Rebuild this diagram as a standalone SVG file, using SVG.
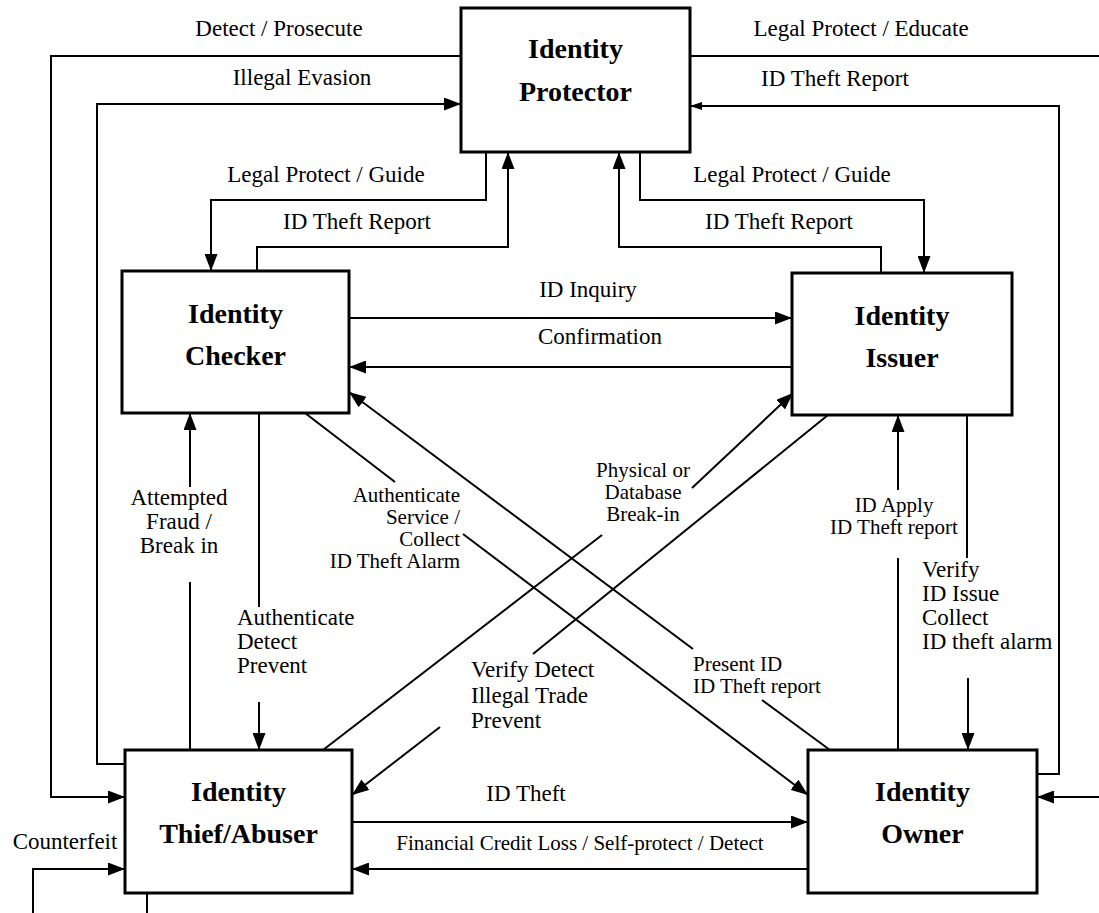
<svg xmlns="http://www.w3.org/2000/svg" width="1099" height="913" viewBox="0 0 1099 913">
  <style>
    .box { fill: #ffffff; stroke: #000000; stroke-width: 3; }
    .title { font-family: "Liberation Serif", "Times New Roman", serif; font-weight: bold; font-size: 28px; fill: #000000; text-anchor: middle; }
    .lbl { font-family: "Liberation Serif", "Times New Roman", serif; font-size: 23px; fill: #000000; }
    .mid { text-anchor: middle; }
    .end { text-anchor: end; }
    .small { font-size: 21px; }
    .wire { fill: none; stroke: #000000; stroke-width: 2; }
    .arrow { marker-end: url(#head); }
    .arrow-sm { marker-end: url(#headSmall); }
  </style>
  <defs>
    <marker id="head" markerUnits="userSpaceOnUse" markerWidth="17" markerHeight="13" refX="17" refY="6.5" orient="auto">
      <path d="M0,0 L17,6.5 L0,13 Z" fill="#000000"/>
    </marker>
    <marker id="headSmall" markerUnits="userSpaceOnUse" markerWidth="12" markerHeight="8" refX="12" refY="4" orient="auto">
      <path d="M0,0 L12,4 L0,8 Z" fill="#000000"/>
    </marker>
  </defs>

  <rect width="1099" height="913" fill="#ffffff"/>

  <!-- connectors -->
  <g id="connectors">
    <!-- protector <-> thief -->
    <path class="wire arrow" d="M461,56 H51 V797 H125"/>
    <path class="wire arrow" d="M125,764 H97 V104 H461"/>
    <!-- protector <-> owner (loops run past the page edge) -->
    <path class="wire arrow" d="M690,56 H1115 V797 H1037"/>
    <path class="wire arrow-sm" d="M1037,774 H1059 V106 H690"/>
    <!-- protector <-> checker -->
    <path class="wire arrow" d="M486,152 V200 H211 V271"/>
    <path class="wire arrow" d="M257,271 V247 H508 V152"/>
    <!-- protector <-> issuer -->
    <path class="wire arrow" d="M640,152 V200 H924 V273"/>
    <path class="wire arrow" d="M881,273 V247 H619 V152"/>
    <!-- checker <-> issuer -->
    <path class="wire arrow" d="M349,318 H792"/>
    <path class="wire arrow" d="M792,367 H349"/>
    <!-- thief <-> checker -->
    <path class="wire" d="M190,750 V582"/>
    <path class="wire arrow" d="M190,487 V413"/>
    <path class="wire" d="M259,413 V607"/>
    <path class="wire arrow" d="M259,702 V750"/>
    <!-- checker <-> owner -->
    <path class="wire" d="M305,413 L395,482"/>
    <path class="wire arrow" d="M463,534 L808,795"/>
    <path class="wire" d="M830,750 L762,700"/>
    <path class="wire arrow" d="M693,649 L349,392"/>
    <!-- thief <-> issuer -->
    <path class="wire" d="M323,750 L602,535"/>
    <path class="wire arrow" d="M692,488 L793,393"/>
    <path class="wire" d="M828,415 L533,654"/>
    <path class="wire arrow" d="M440,727 L352,795"/>
    <!-- owner <-> issuer -->
    <path class="wire" d="M898,750 V558"/>
    <path class="wire arrow" d="M898,490 V415"/>
    <path class="wire" d="M967,415 V558"/>
    <path class="wire arrow" d="M968,678 V750"/>
    <!-- thief <-> owner -->
    <path class="wire arrow" d="M352,822 H808"/>
    <path class="wire arrow" d="M808,869 H352"/>
    <!-- thief self loop -->
    <path class="wire arrow" d="M147,893 V930 H33 V869 H125"/>
  </g>

  <!-- connector labels -->
  <g id="labels">
    <text class="lbl mid" x="279" y="36">Detect / Prosecute</text>
    <text class="lbl mid" x="302" y="85">Illegal Evasion</text>
    <text class="lbl mid" x="861" y="36">Legal Protect / Educate</text>
    <text class="lbl mid" x="835" y="86">ID Theft Report</text>
    <text class="lbl mid" x="326" y="182">Legal Protect / Guide</text>
    <text class="lbl mid" x="357" y="229">ID Theft Report</text>
    <text class="lbl mid" x="792" y="182">Legal Protect / Guide</text>
    <text class="lbl mid" x="779" y="229">ID Theft Report</text>
    <text class="lbl mid" x="588" y="297">ID Inquiry</text>
    <text class="lbl mid" x="600" y="344">Confirmation</text>
    <text class="lbl mid" x="179" y="505">Attempted</text>
    <text class="lbl mid" x="179" y="529">Fraud /</text>
    <text class="lbl mid" x="179" y="553">Break in</text>
    <text class="lbl" x="237" y="625">Authenticate</text>
    <text class="lbl" x="237" y="649">Detect</text>
    <text class="lbl" x="237" y="673">Prevent</text>
    <text class="lbl end small" x="460" y="502">Authenticate</text>
    <text class="lbl end small" x="460" y="524">Service /</text>
    <text class="lbl end small" x="460" y="546">Collect</text>
    <text class="lbl end small" x="460" y="568">ID Theft Alarm</text>
    <text class="lbl mid small" x="643" y="477">Physical or</text>
    <text class="lbl mid small" x="643" y="499">Database</text>
    <text class="lbl mid small" x="643" y="521">Break-in</text>
    <text class="lbl" x="471" y="677">Verify Detect</text>
    <text class="lbl" x="471" y="703">Illegal Trade</text>
    <text class="lbl" x="471" y="728">Prevent</text>
    <text class="lbl small" x="693" y="671">Present ID</text>
    <text class="lbl small" x="693" y="693">ID Theft report</text>
    <text class="lbl mid small" x="894" y="512">ID Apply</text>
    <text class="lbl mid small" x="894" y="534">ID Theft report</text>
    <text class="lbl" x="922" y="577">Verify</text>
    <text class="lbl" x="922" y="601">ID Issue</text>
    <text class="lbl" x="922" y="625">Collect</text>
    <text class="lbl" x="922" y="649">ID theft alarm</text>
    <text class="lbl mid" x="526" y="801">ID Theft</text>
    <text class="lbl mid small" x="580" y="850">Financial Credit Loss / Self-protect / Detect</text>
    <text class="lbl mid" x="65" y="849">Counterfeit</text>
  </g>

  <!-- nodes -->
  <g id="protector">
    <rect class="box" x="461" y="8" width="229" height="144"/>
    <text class="title" x="575.5" y="58">Identity</text>
    <text class="title" x="575.5" y="101">Protector</text>
  </g>
  <g id="checker">
    <rect class="box" x="122" y="271" width="227" height="142"/>
    <text class="title" x="235.5" y="323">Identity</text>
    <text class="title" x="235.5" y="365">Checker</text>
  </g>
  <g id="issuer">
    <rect class="box" x="792" y="273" width="220" height="142"/>
    <text class="title" x="902" y="325">Identity</text>
    <text class="title" x="902" y="367">Issuer</text>
  </g>
  <g id="thief">
    <rect class="box" x="125" y="750" width="227" height="143"/>
    <text class="title" x="238.5" y="801">Identity</text>
    <text class="title" x="238.5" y="843">Thief/Abuser</text>
  </g>
  <g id="owner">
    <rect class="box" x="808" y="750" width="229" height="143"/>
    <text class="title" x="922.5" y="801">Identity</text>
    <text class="title" x="922.5" y="843">Owner</text>
  </g>
</svg>
